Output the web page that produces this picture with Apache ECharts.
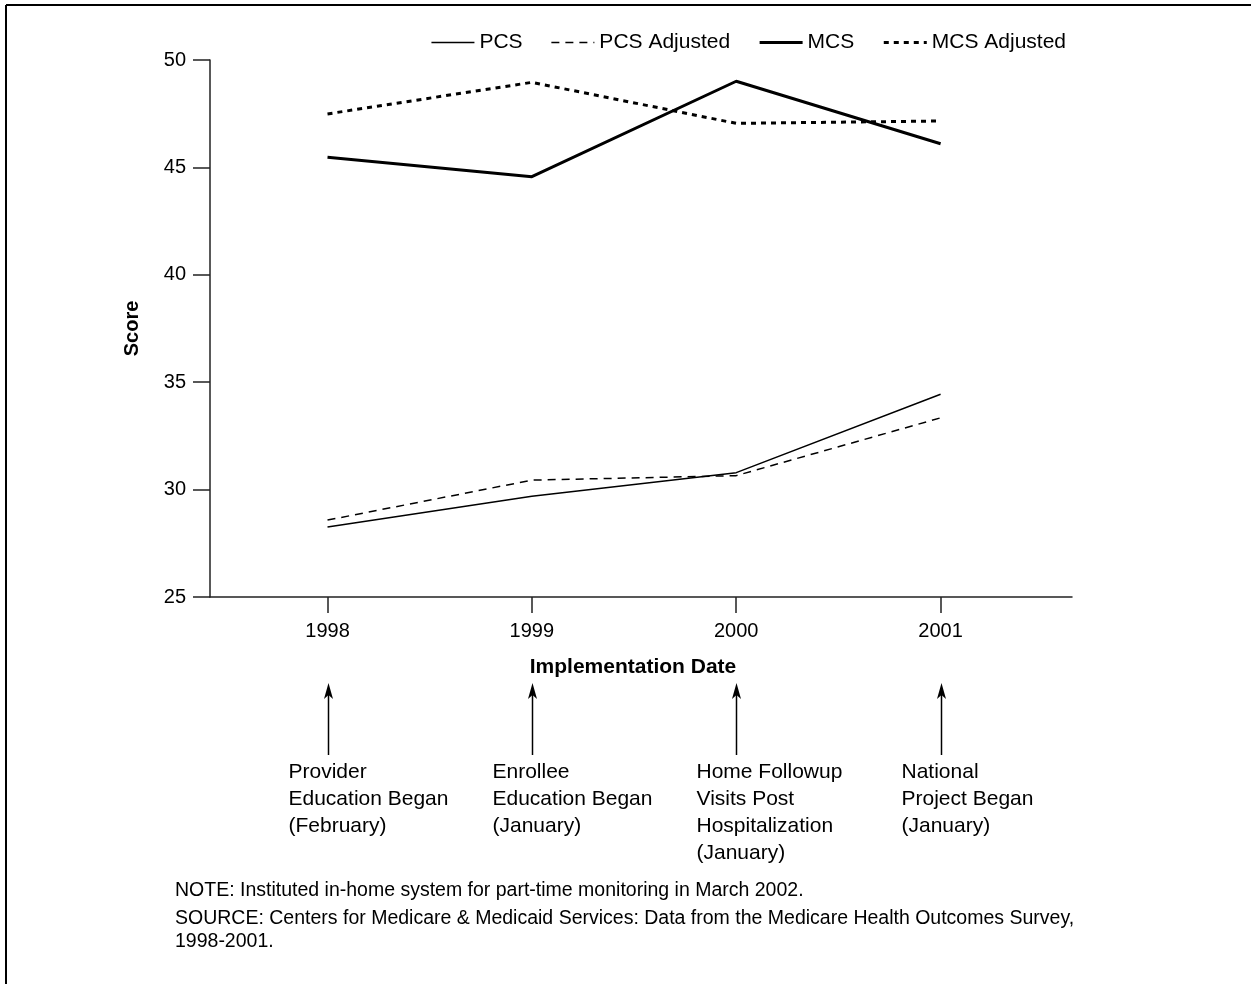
<!DOCTYPE html>
<html>
<head>
<meta charset="utf-8">
<script src="https://cdn.jsdelivr.net/npm/echarts@6/dist/echarts.min.js"></script>
<style>
html,body{margin:0;padding:0;background:#fff;}
#chart{width:1251px;height:984px;}
</style>
</head>
<body>
<div id="chart"></div>
<script>
const years = [1998, 1999, 2000, 2001];
const pcs = [28.26, 29.69, 30.79, 34.44];
const pcsAdjusted = [28.58, 30.44, 30.65, 33.34];
const mcs = [45.47, 44.57, 49.01, 46.10];
const mcsAdjusted = [47.49, 48.96, 47.05, 47.16];
const yTicks = [25, 30, 35, 40, 45, 50];
const seriesNames = ['PCS', 'PCS Adjusted', 'MCS', 'MCS Adjusted'];
const annotations = [
  ['Provider', 'Education Began', '(February)'],
  ['Enrollee', 'Education Began', '(January)'],
  ['Home Followup', 'Visits Post', 'Hospitalization', '(January)'],
  ['National', 'Project Began', '(January)']
];
const noteText = 'NOTE: Instituted in-home system for part-time monitoring in March 2002.';
const sourceText = 'SOURCE: Centers for Medicare & Medicaid Services: Data from the Medicare Health Outcomes Survey,\n1998-2001.';

const FONT = '"Liberation Sans", Arial, sans-serif';
const pairs = arr => years.map((y, i) => [y, arr[i]]);
const styles = [
  {color: '#000', width: 1.5, type: 'solid'},
  {color: '#000', width: 1.5, type: [8, 6]},
  {color: '#000', width: 3, type: 'solid'},
  {color: '#000', width: 3, type: [5, 5]}
];
const values = [pcs, pcsAdjusted, mcs, mcsAdjusted];

const chart = echarts.init(document.getElementById('chart'), null, {renderer: 'canvas'});

const option = {
  animation: false,
  backgroundColor: '#fff',
  textStyle: {fontFamily: FONT, color: '#000'},
  grid: {left: 210, right: 179, top: 60, bottom: 387},
  legend: {
    right: 180, top: 27,
    itemWidth: 43, itemHeight: 14, itemGap: 28,
    itemStyle: {opacity: 0},
    textStyle: {fontFamily: FONT, fontSize: 21, color: '#000'},
    data: seriesNames.map((n, i) => ({name: n, lineStyle: {width: styles[i].width, type: styles[i].type, color: '#000'}}))
  },
  xAxis: {
    type: 'value', min: 1997.425, max: 2001.643,
    name: 'Implementation Date', nameLocation: 'middle', nameGap: 60,
    nameTextStyle: {fontFamily: FONT, fontSize: 21, fontWeight: 'bold', color: '#000', padding: [0, 16, 0, 0]},
    axisLine: {show: true, lineStyle: {color: '#222', width: 1.5}},
    axisTick: {show: true, length: 16, lineStyle: {color: '#222', width: 1.5}, customValues: years},
    axisLabel: {fontFamily: FONT, fontSize: 20, color: '#000', margin: 24, customValues: years, formatter: v => String(v)},
    splitLine: {show: false}
  },
  yAxis: {
    type: 'value', min: 25, max: 50, interval: 5,
    name: 'Score', nameLocation: 'middle', nameGap: 68, nameRotate: 90,
    nameTextStyle: {fontFamily: FONT, fontSize: 20, fontWeight: 'bold', color: '#000'},
    axisLine: {show: true, lineStyle: {color: '#222', width: 1.5}},
    axisTick: {show: true, length: 17, lineStyle: {color: '#222', width: 1.5}},
    axisLabel: {fontFamily: FONT, fontSize: 20, color: '#000', margin: 24},
    splitLine: {show: false}
  },
  series: seriesNames.map((n, i) => ({
    name: n, type: 'line', data: pairs(values[i]), symbol: 'none',
    lineStyle: styles[i], itemStyle: {color: '#000'}
  }))
};
chart.setOption(option);

function buildGraphics() {
  const els = [];
  // frame
  els.push({type: 'line', shape: {x1: 6, y1: 5, x2: 1251, y2: 5}, style: {stroke: '#000', lineWidth: 2}});
  els.push({type: 'line', shape: {x1: 6, y1: 5, x2: 6, y2: 984}, style: {stroke: '#000', lineWidth: 2}});
  years.forEach((yr, i) => {
    const x = Math.round(chart.convertToPixel({xAxisIndex: 0}, yr)) + 0.5;
    els.push({type: 'line', shape: {x1: x, y1: 755, x2: x, y2: 694}, style: {stroke: '#000', lineWidth: 1.5}});
    els.push({type: 'polygon', shape: {points: [[x, 683], [x - 4.5, 699], [x, 695], [x + 4.5, 699]]}, style: {fill: '#000'}});
    els.push({type: 'text', x: x - 40, y: 759,
      style: {text: annotations[i].join('\n'), font: '21px ' + FONT, fill: '#000', lineHeight: 27, textVerticalAlign: 'top', textAlign: 'left'}});
  });
  els.push({type: 'text', x: 175, y: 881, style: {text: noteText, font: '19.5px ' + FONT, fill: '#000', textAlign: 'left', textVerticalAlign: 'top'}});
  els.push({type: 'text', x: 175, y: 907, style: {text: sourceText, font: '19.5px ' + FONT, fill: '#000', lineHeight: 23, textAlign: 'left', textVerticalAlign: 'top'}});
  chart.setOption({graphic: {elements: els}});
}
buildGraphics();
</script>
</body>
</html>
